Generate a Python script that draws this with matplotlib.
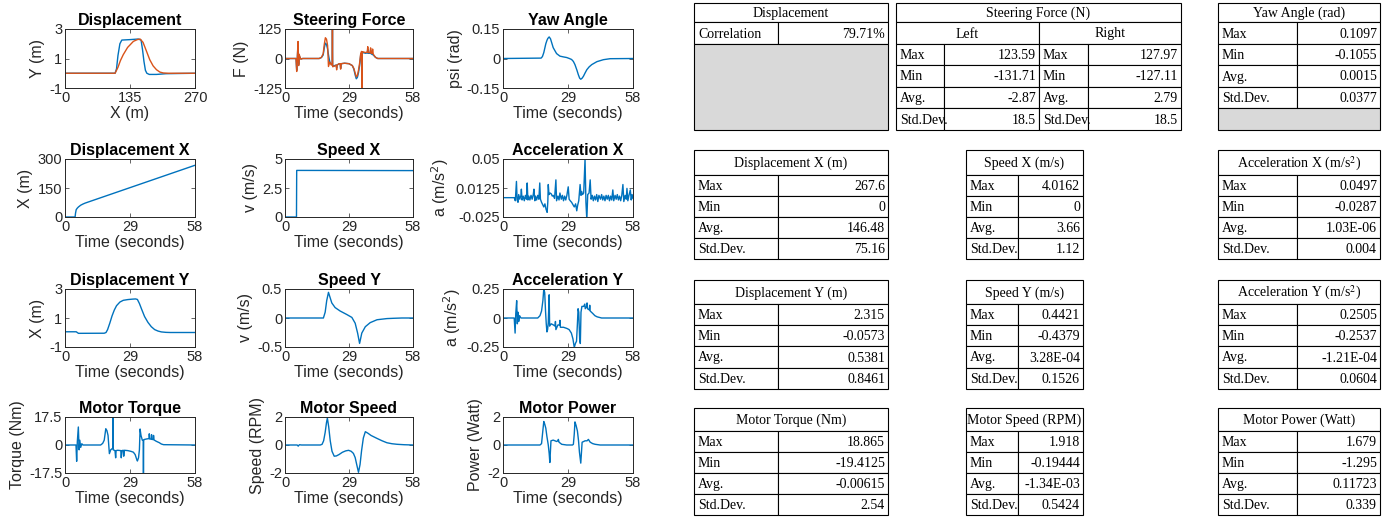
import matplotlib
matplotlib.use('Agg')
import matplotlib.pyplot as plt
from matplotlib.patches import Rectangle

plt.rcParams['font.family'] = ['Liberation Sans', 'DejaVu Sans']

# ---- path data (Y against X) ----
path_ref_x = [0, 104, 107, 110, 114, 118, 135, 152, 158, 161, 164, 167, 170, 175, 190, 210, 270]
path_ref_y = [0, 0, 0.3, 1.2, 2.0, 2.25, 2.28, 2.32, 2.25, 1.6, 0.8, 0.2, 0, -0.08, -0.08, -0.03, 0]
path_act_x = [0, 104, 110, 115, 121, 130, 142, 150, 156, 162, 168, 176, 183, 190, 197, 204, 215, 270]
path_act_y = [0, 0, 0.4, 0.85, 1.26, 1.75, 2.16, 2.28, 2.32, 2.1, 1.6, 0.92, 0.5, 0.24, 0.08, 0.02, 0, 0]

# ---- steering force, left / right ----
t_sf_l = [0, 5.0, 5.3, 5.6, 5.9, 6.2, 6.4, 6.7, 7.2, 8.0,
          15.5, 16.5, 17.3, 17.8, 18.3, 18.8, 19.3, 19.8, 20.3, 21.0,
          21.4, 21.5, 21.6, 22.5, 23.2, 23.4, 23.6, 24.5, 25.0, 25.2,
          25.5, 27.0, 29.0, 30.5, 31.2, 31.8, 32.3, 32.8, 33.3, 33.8,
          34.3, 34.7, 34.8, 34.9, 35.5, 36.5, 37.3, 37.5, 37.7, 38.5,
          38.8, 39.0, 40.0, 41.0, 42.0, 58.0]
f_sf_l = [0, 0, -50, 5, 65, -25, 15, 6, -2, 0,
          0, 4, 15, 45, 65, 60, 40, 10, -15, -25,
          -25, 123.59, -32, -30, -28, -40, -28, -22, -22, -42,
          -22, -20, -22, -30, -45, -70, -86, -80, -60, -30,
          15, 22, -131.71, 22, 25, 22, 24, 40, 22, 22,
          35, 20, 15, 5, 0, 0]
t_sf_r = [0, 5.0, 5.3, 5.6, 5.9, 6.2, 6.4, 6.7, 7.2, 8.0,
          15.5, 16.5, 17.3, 17.8, 18.3, 18.8, 19.3, 19.7, 20.3, 21.0,
          21.4, 21.5, 21.6, 22.5, 23.2, 23.4, 23.6, 24.5, 25.0, 25.2,
          25.5, 27.0, 29.0, 30.5, 31.2, 31.8, 32.3, 32.8, 33.3, 33.8,
          34.3, 34.7, 34.8, 34.9, 35.5, 36.5, 37.3, 37.5, 37.7, 38.5,
          38.8, 39.0, 39.5, 39.7, 40.0, 41.0, 42.0, 58.0]
f_sf_r = [0, 0, -55, 8, 72, -30, 18, 8, -3, 0,
          0, 5, 20, 60, 88, 82, 55, -34, -15, -28,
          -20, 127.97, -35, -32, -28, -48, -28, -22, -22, -45,
          -22, -20, -22, -30, -42, -62, -78, -72, -50, -20,
          20, 30, -127.11, 28, 28, 25, 28, 50, 25, 25,
          45, 22, 22, 40, 18, 5, 0, 0]

# ---- yaw angle ----
t_yaw = [0, 17.0, 17.6, 18.2, 18.7, 19.1, 19.6, 20.0, 20.6, 21.2,
         22.4, 23.9, 25.4, 27.0, 28.4, 29.6, 30.6, 31.4, 32.1, 33.0,
         33.6, 34.2, 34.7, 35.3, 35.9, 36.6, 37.4, 38.4, 39.6, 41.9,
         44.8, 47.8, 58.0]
yaw = [0, 0.002, 0.01, 0.03, 0.055, 0.075, 0.092, 0.102, 0.1097, 0.1,
       0.055, 0.025, 0.012, 0.008, 0.005, 0.0, -0.005, -0.015, -0.031, -0.06,
       -0.082, -0.1, -0.1055, -0.1, -0.09, -0.074, -0.057, -0.043, -0.031, -0.016,
       -0.006, -0.001, 0]

# ---- displacement / speed X ----
t_dx = [0, 4.5, 4.7, 5.0, 5.5, 6.0, 7.0, 8.0, 9.0, 10.0, 12.0, 58.0]
dx = [0, 0, 20, 38, 46, 52, 61, 67, 72, 76, 84, 267.6]
t_vx = [0, 5.2, 5.3, 58.0]
vx = [0, 0, 4.0162, 4.0]

# ---- acceleration X ----
t_ax = [0, 5.0, 5.5, 6.0, 6.3, 6.7, 7.0, 7.5, 8.0, 8.2,
        8.5, 9.0, 9.5, 10.0, 10.5, 10.8, 11.1, 11.5, 12.0, 12.5,
        13.0, 13.5, 13.8, 14.2, 14.5, 15.0, 15.5, 16.0, 16.4, 16.7,
        17.2, 17.7, 18.2, 18.7, 19.2, 19.7, 20.0, 20.2, 20.5, 21.0,
        21.5, 22.0, 22.4, 23.0, 23.6, 23.9, 24.5, 25.0, 25.4, 26.0,
        26.5, 27.0, 27.5, 28.0, 28.5, 29.1, 29.5, 30.0, 30.6, 31.2,
        31.8, 32.4, 32.9, 33.3, 33.8, 34.4, 34.8, 35.1, 35.5, 36.0,
        36.6, 37.0, 37.4, 37.8, 38.4, 38.9, 39.3, 39.8, 40.3, 40.8,
        41.3, 41.8, 42.3, 42.8, 43.5, 44.0, 44.5, 45.0, 45.5, 46.0,
        46.5, 47.0, 47.5, 48.0, 48.5, 49.0, 49.4, 50.0, 50.5, 51.0,
        51.5, 52.0, 52.5, 53.0, 53.5, 53.9, 54.5, 55.0, 55.3, 55.7,
        56.2, 56.8, 57.2, 57.6, 58.0]
ax_vals = [0, 0, -0.004, 0.021, -0.003, -0.006, 0.004, -0.002, 0.003, 0.011,
           -0.003, 0.002, -0.004, 0.003, -0.002, 0.019, -0.003, 0.002, -0.003, 0.003,
           -0.002, 0.004, 0.011, -0.004, 0.002, -0.003, 0.003, -0.002, 0.019, -0.002,
           -0.006, -0.009, -0.012, -0.008, -0.015, -0.019, -0.005, 0.017, 0.004, 0.006,
           0.005, 0.002, 0.003, -0.001, 0.023, -0.004, 0.002, -0.003, 0.006, -0.002,
           0.003, -0.004, 0.002, -0.003, 0.003, 0.014, -0.002, -0.004, -0.006, -0.009,
           -0.012, -0.008, -0.017, -0.01, -0.004, 0.017, 0.003, 0.008, 0.004, 0.006,
           0.0497, -0.006, -0.0287, 0.004, 0.006, 0.023, -0.002, 0.003, -0.004, 0.002,
           -0.003, 0.004, -0.005, 0.003, -0.002, 0.004, -0.003, 0.002, -0.004, 0.003,
           -0.002, 0.003, -0.004, 0.002, -0.003, 0.01, -0.004, 0.003, -0.002, 0.004,
           -0.003, 0.002, -0.004, 0.003, 0.017, -0.005, 0.003, -0.002, 0.012, -0.004,
           0.003, 0.01, -0.003, 0.004, -0.001]

# ---- displacement / speed / acceleration Y ----
t_dy = [0, 5.0, 6.0, 17.5, 18.3, 19.0, 20.0, 21.0, 22.0, 23.0,
        24.5, 26.0, 28.0, 30.0, 31.5, 32.3, 33.2, 34.2, 35.5, 37.0,
        38.5, 40.0, 41.5, 43.0, 45.0, 47.0, 58.0]
dy = [0.05, 0.05, -0.0573, -0.05, 0.0, 0.2, 0.65, 1.15, 1.55, 1.85,
      2.1, 2.22, 2.27, 2.3, 2.315, 2.28, 2.0, 1.6, 1.1, 0.7,
      0.4, 0.2, 0.1, 0.04, 0.01, 0.0, 0.0]
t_vy = [0, 17.4, 18.2, 18.9, 19.7, 21.2, 22.7, 25.0, 28.0, 30.3,
        31.8, 32.9, 33.8, 34.8, 36.4, 38.6, 41.7, 46.2, 49.2, 53.0,
        58.0]
vy = [0, 0, 0.1, 0.3, 0.4421, 0.26, 0.18, 0.12, 0.06, 0.01,
      -0.09, -0.26, -0.4379, -0.26, -0.15, -0.08, -0.03, -0.01, -0.005, 0,
      0]
t_ay = [0, 5.0, 5.4, 5.7, 6.1, 6.4, 6.7, 7.0, 7.4, 8.0,
        15.5, 16.5, 17.2, 17.8, 18.2, 18.6, 19.0, 19.3, 19.6, 19.9,
        20.2, 20.6, 20.8, 21.5, 22.5, 23.2, 23.4, 23.6, 24.5, 25.2,
        25.4, 25.6, 27.0, 28.5, 29.5, 30.5, 31.2, 31.8, 32.3, 32.8,
        33.2, 33.5, 33.8, 34.2, 34.5, 34.8, 35.2, 36.0, 36.5, 36.7,
        37.3, 37.5, 37.7, 38.5, 38.7, 38.9, 40.0, 41.0, 42.0, 44.0,
        58.0]
ay = [0, 0, -0.13, 0.04, 0.15, -0.05, 0.05, -0.03, 0.02, 0,
      0, 0.02, 0.06, 0.15, 0.2505, 0.22, 0.05, -0.05, -0.12, -0.1,
      -0.04, 0.2, -0.07, -0.05, -0.06, -0.07, -0.03, -0.1, -0.06, -0.06,
      -0.02, -0.08, -0.08, -0.09, -0.1, -0.13, -0.18, -0.2537, -0.22, -0.2,
      -0.05, 0.08, 0.05, -0.18, -0.22, 0.05, 0.1, 0.1, 0.12, 0.08,
      0.1, 0.13, 0.08, 0.07, 0.11, 0.06, 0.04, 0.02, 0.01, 0,
      0]

# ---- motor ----
t_tq = [0, 4.9, 5.2, 5.5, 5.95, 6.3, 6.6, 7.0, 7.5, 8.0,
        15.9, 16.8, 17.5, 18.2, 18.7, 19.2, 19.8, 20.4, 21.3, 21.4,
        21.5, 22.3, 22.6, 22.8, 23.5, 24.9, 25.1, 25.4, 26.0, 26.2,
        26.5, 28.0, 29.5, 30.5, 31.3, 32.0, 32.3, 32.8, 33.2, 33.5,
        33.9, 34.5, 34.9, 35.0, 35.1, 35.5, 36.5, 37.5, 37.6, 37.8,
        38.5, 38.6, 38.8, 39.4, 39.5, 39.7, 40.5, 41.2, 42.0, 43.0,
        44.0, 58.0]
torque = [0, 0, -10.2, 2, 11.25, -3, 3, -1.5, 0.8, 0,
          0, 1, 3, 10.2, 9, 6, -5.4, -3, -2, 18.865,
          -3, -3.5, -8, -3.5, -3.3, -3.5, -8, -3.5, -3.3, -7,
          -3.3, -3.5, -4, -4.5, -6, -9, -10, -8, -3, 10,
          6, 3, 3, -19.4125, 3, 3.5, 3.8, 4, 7, 3.8,
          3.6, 6.5, 3.5, 3.4, 6, 3.2, 2.5, 2, 1.5, 0.6,
          0.2, 0]
t_ms = [0, 5.5, 6.0, 6.5, 7.5, 16.0, 16.8, 17.5, 18.2, 18.8,
        19.2, 19.8, 20.5, 21.3, 22.3, 23.3, 24.5, 26.0, 27.5, 28.8,
        30.0, 31.0, 31.8, 32.5, 33.3, 34.0, 34.7, 35.5, 36.4, 37.5,
        39.0, 41.7, 44.0, 46.2, 48.5, 50.8, 54.0, 58.0]
mspeed = [0, 0, -0.08, 0.02, 0, 0, 0.05, 0.3, 0.9, 1.6,
          1.918, 1.3, 0.3, -0.45, -0.8, -0.78, -0.68, -0.52, -0.42, -0.38,
          -0.45, -0.6, -0.9, -1.4, -1.95, -1.4, -0.4, 0.5, 0.95, 0.85,
          0.68, 0.47, 0.3, 0.16, 0.09, 0.05, 0.02, 0]
t_mp = [0, 16.5, 17.2, 17.7, 18.2, 18.6, 19.1, 19.6, 20.2, 20.6,
        20.9, 21.4, 22.4, 23.2, 23.9, 24.5, 24.7, 25.0, 26.2, 28.4,
        31.0, 31.4, 31.8, 32.1, 32.6, 33.2, 33.7, 34.1, 34.7, 35.3,
        36.0, 36.6, 37.5, 38.1, 38.9, 40.0, 41.1, 43.3, 58.0]
mpower = [0, 0, 0.1, 0.9, 1.679, 1.5, 1.2, 0.6, 0.0, -0.6,
          -1.25, 0.3, 0.35, 0.3, 0.25, 0.3, 0.4, 0.2, 0.05, 0,
          0, 0.05, 0.8, 1.65, 1.4, 1.0, 0.3, -0.5, -1.295, 0.2,
          0.25, 0.3, 0.3, 0.4, 0.2, 0.1, 0.05, 0, 0]

# ---- summary tables ----
stat_names = ['Max', 'Min', 'Avg.', 'Std.Dev.']
corr_row = ['Correlation', '79.71%']
steer_left = ['123.59', '-131.71', '-2.87', '18.5']
steer_right = ['127.97', '-127.11', '2.79', '18.5']
yaw_vals = ['0.1097', '-0.1055', '0.0015', '0.0377']
dispx_vals = ['267.6', '0', '146.48', '75.16']
speedx_vals = ['4.0162', '0', '3.66', '1.12']
accx_vals = ['0.0497', '-0.0287', '1.03E-06', '0.004']
dispy_vals = ['2.315', '-0.0573', '0.5381', '0.8461']
speedy_vals = ['0.4421', '-0.4379', '3.28E-04', '0.1526']
accy_vals = ['0.2505', '-0.2537', '-1.21E-04', '0.0604']
torque_vals = ['18.865', '-19.4125', '-0.00615', '2.54']
mspeed_vals = ['1.918', '-0.19444', '-1.34E-03', '0.5424']
mpower_vals = ['1.679', '-1.295', '0.11723', '0.339']

W, H = 1386, 521
BLUE = '#0072BD'
ORANGE = '#D95319'
AXC = '#262626'

fig = plt.figure(figsize=(W / 100, H / 100), dpi=100)


def px_axes(x0, y0, x1, y1):
    return fig.add_axes([x0 / W, 1 - y1 / H, (x1 - x0) / W, (y1 - y0) / H])


def style(ax, title, xlabel, ylabel, xlim, xticks, ylim, yticks, ylabels):
    ax.set_xlim(xlim)
    ax.set_ylim(ylim)
    ax.set_xticks(xticks)
    ax.set_xticklabels([str(v) for v in xticks])
    ax.set_yticks(yticks)
    ax.set_yticklabels(ylabels)
    ax.tick_params(direction='in', length=3, width=0.5, colors=AXC,
                   labelsize=10.5, pad=2, top=True, right=True)
    for s in ax.spines.values():
        s.set_linewidth(0.7)
        s.set_color(AXC)
    ax.set_title(title, fontsize=11.5, fontweight='bold', pad=3, color='black')
    ax.set_xlabel(xlabel, fontsize=11.5, labelpad=1, color=AXC)
    ax.set_ylabel(ylabel, fontsize=11.5, labelpad=3, color=AXC)


cols = [(65, 195), (285, 413), (503, 633)]
rows = [(29, 88), (159, 217), (289, 347), (417, 473)]
T = 'Time (seconds)'
tt = [0, 29, 58]

# row 1
a = px_axes(cols[0][0], rows[0][0], cols[0][1], rows[0][1])
a.plot(path_ref_x, path_ref_y, color=BLUE, lw=1)
a.plot(path_act_x, path_act_y, color=ORANGE, lw=1)
style(a, 'Displacement', 'X (m)', 'Y (m)', (0, 270), [0, 135, 270], (-1, 3), [-1, 1, 3], ['-1', '1', '3'])

a = px_axes(cols[1][0], rows[0][0], cols[1][1], rows[0][1])
a.plot(t_sf_l, f_sf_l, color=BLUE, lw=1)
a.plot(t_sf_r, f_sf_r, color=ORANGE, lw=1)
style(a, 'Steering Force', T, 'F (N)', (0, 58), tt, (-125, 125), [-125, 0, 125], ['-125', '0', '125'])

a = px_axes(cols[2][0], rows[0][0], cols[2][1], rows[0][1])
a.plot(t_yaw, yaw, color=BLUE, lw=1)
style(a, 'Yaw Angle', T, 'psi (rad)', (0, 58), tt, (-0.15, 0.15), [-0.15, 0, 0.15], ['-0.15', '0', '0.15'])

# row 2
a = px_axes(cols[0][0], rows[1][0], cols[0][1], rows[1][1])
a.plot(t_dx, dx, color=BLUE, lw=1)
style(a, 'Displacement X', T, 'X (m)', (0, 58), tt, (0, 300), [0, 150, 300], ['0', '150', '300'])

a = px_axes(cols[1][0], rows[1][0], cols[1][1], rows[1][1])
a.plot(t_vx, vx, color=BLUE, lw=1)
style(a, 'Speed X', T, 'v (m/s)', (0, 58), tt, (0, 5), [0, 2.5, 5], ['0', '2.5', '5'])

a = px_axes(cols[2][0], rows[1][0], cols[2][1], rows[1][1])
a.plot(t_ax, ax_vals, color=BLUE, lw=1)
style(a, 'Acceleration X', T, 'a (m/s$^2$)', (0, 58), tt, (-0.025, 0.05), [-0.025, 0.0125, 0.05],
      ['-0.025', '0.0125', '0.05'])

# row 3
a = px_axes(cols[0][0], rows[2][0], cols[0][1], rows[2][1])
a.plot(t_dy, dy, color=BLUE, lw=1)
style(a, 'Displacement Y', T, 'X (m)', (0, 58), tt, (-1, 3), [-1, 1, 3], ['-1', '1', '3'])

a = px_axes(cols[1][0], rows[2][0], cols[1][1], rows[2][1])
a.plot(t_vy, vy, color=BLUE, lw=1)
style(a, 'Speed Y', T, 'v (m/s)', (0, 58), tt, (-0.5, 0.5), [-0.5, 0, 0.5], ['-0.5', '0', '0.5'])

a = px_axes(cols[2][0], rows[2][0], cols[2][1], rows[2][1])
a.plot(t_ay, ay, color=BLUE, lw=1)
style(a, 'Acceleration Y', T, 'a (m/s$^2$)', (0, 58), tt, (-0.25, 0.25), [-0.25, 0, 0.25],
      ['-0.25', '0', '0.25'])

# row 4
a = px_axes(cols[0][0], rows[3][0], cols[0][1], rows[3][1])
a.plot(t_tq, torque, color=BLUE, lw=1)
style(a, 'Motor Torque', T, 'Torque (Nm)', (0, 58), tt, (-17.5, 17.5), [-17.5, 0, 17.5],
      ['-17.5', '0', '17.5'])

a = px_axes(cols[1][0], rows[3][0], cols[1][1], rows[3][1])
a.plot(t_ms, mspeed, color=BLUE, lw=1)
style(a, 'Motor Speed', T, 'Speed (RPM)', (0, 58), tt, (-2, 2), [-2, 0, 2], ['-2', '0', '2'])

a = px_axes(cols[2][0], rows[3][0], cols[2][1], rows[3][1])
a.plot(t_mp, mpower, color=BLUE, lw=1)
style(a, 'Motor Power', T, 'Power (Watt)', (0, 58), tt, (-2, 2), [-2, 0, 2], ['-2', '0', '2'])

# ---- tables, drawn in pixel space on a full-figure overlay ----
tab = fig.add_axes([0, 0, 1, 1], facecolor='none')
tab.set_xlim(0, W)
tab.set_ylim(H, 0)
tab.axis('off')
BODY_FS = 10
HEAD_FS = 10


def cell(x0, y0, x1, y1, text='', align='left', fill='white', fs=BODY_FS):
    tab.add_patch(Rectangle((x0, y0), x1 - x0, y1 - y0, facecolor=fill,
                            edgecolor='black', lw=0.8))
    if text:
        if align == 'left':
            tx = x0 + 4
        elif align == 'right':
            tx = x1 - 3
        else:
            tx = (x0 + x1) / 2
        tab.text(tx, (y0 + y1) / 2 + 1, text, ha=align, va='center', fontsize=fs,
                 family=['Liberation Serif'], math_fontfamily='stix', color='black')


def stats_table(x0, xs, x1, ys, header, values):
    cell(x0, ys[0], x1, ys[1], header, 'center', fs=HEAD_FS)
    for i, (name, val) in enumerate(zip(stat_names, values)):
        cell(x0, ys[i + 1], xs, ys[i + 2], name)
        cell(xs, ys[i + 1], x1, ys[i + 2], val, 'right')


LX = (694, 778, 888)
MX = (966, 1018, 1083)
RX = (1218, 1297, 1380)
top_rows = [3, 22, 44, 65, 87, 108, 130]
row2 = [150, 175, 196, 217, 238, 259]
row3 = [280, 304, 325, 346, 368, 389]
row4 = [408, 431, 452, 473, 494, 515]

# displacement correlation
cell(LX[0], top_rows[0], LX[2], top_rows[1], 'Displacement', 'center', fs=HEAD_FS)
cell(LX[0], top_rows[1], LX[1], top_rows[2], corr_row[0])
cell(LX[1], top_rows[1], LX[2], top_rows[2], corr_row[1], 'right')
cell(LX[0], top_rows[2], LX[2], top_rows[6], fill='#D9D9D9')

# steering force left / right
SX = (896, 944, 1039, 1088, 1181)
cell(SX[0], top_rows[0], SX[4], top_rows[1], 'Steering Force (N)', 'center', fs=HEAD_FS)
cell(SX[0], top_rows[1], SX[2], top_rows[2], 'Left', 'center', fs=HEAD_FS)
cell(SX[2], top_rows[1], SX[4], top_rows[2], 'Right', 'center', fs=HEAD_FS)
for i, name in enumerate(stat_names):
    y0, y1 = top_rows[i + 2], top_rows[i + 3]
    cell(SX[0], y0, SX[1], y1, name)
    cell(SX[1], y0, SX[2], y1, steer_left[i], 'right')
    cell(SX[2], y0, SX[3], y1, name)
    cell(SX[3], y0, SX[4], y1, steer_right[i], 'right')

# yaw angle
stats_table(RX[0], RX[1], RX[2], top_rows[:6], 'Yaw Angle (rad)', yaw_vals)
cell(RX[0], top_rows[5], RX[2], top_rows[6], fill='#D9D9D9')

stats_table(*LX, row2, 'Displacement X (m)', dispx_vals)
stats_table(*MX, row2, 'Speed X (m/s)', speedx_vals)
stats_table(*RX, row2, 'Acceleration X (m/s$^2$)', accx_vals)
stats_table(*LX, row3, 'Displacement Y (m)', dispy_vals)
stats_table(*MX, row3, 'Speed Y (m/s)', speedy_vals)
stats_table(*RX, row3, 'Acceleration Y (m/s$^2$)', accy_vals)
stats_table(*LX, row4, 'Motor Torque (Nm)', torque_vals)
stats_table(*MX, row4, 'Motor Speed (RPM)', mspeed_vals)
stats_table(*RX, row4, 'Motor Power (Watt)', mpower_vals)

fig.savefig('out.png', dpi=100)
